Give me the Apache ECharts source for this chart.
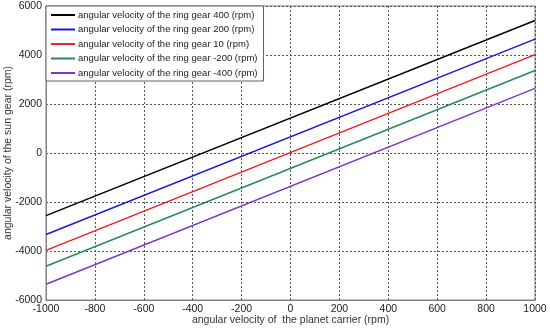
<!DOCTYPE html>
<html><head><meta charset="utf-8">
<script src="https://cdn.jsdelivr.net/npm/echarts@6/dist/echarts.min.js"></script>
<style>html,body{margin:0;padding:0;background:#fff}#c{width:550px;height:329px}</style>
</head><body><div id="c"></div>
<script>
const carrier = [-1000, 1000];
const ring400 = [-2556, 5408];
const ring200 = [-3326, 4649];
const ring10 = [-3976, 4016];
const ringM200 = [-4625, 3367];
const ringM400 = [-5355, 2637];
const names = [
  'angular velocity of the ring gear 400 (rpm)',
  'angular velocity of the ring gear 200 (rpm)',
  'angular velocity of the ring gear 10 (rpm)',
  'angular velocity of the ring gear -200 (rpm)',
  'angular velocity of the ring gear -400 (rpm)'
];
const colors = ['#000000', '#1a1ad6', '#f01c24', '#2a8a55', '#7f35c8'];
const seriesVals = [ring400, ring200, ring10, ringM200, ringM400];
const FONT = '"Liberation Sans", sans-serif';

const chart = echarts.init(document.getElementById('c'));
chart.setOption({
  animation: false,
  textStyle: { fontFamily: FONT },
  grid: { left: 46, right: 15, top: 6, bottom: 29, outerBoundsMode: 'none', containLabel: false, show: true, borderColor: '#808080', borderWidth: 1, backgroundColor: 'transparent' },
  legend: {
    orient: 'vertical', left: 46, top: 6,
    backgroundColor: '#fff', borderColor: '#606060', borderWidth: 1, borderRadius: 0,
    padding: [4, 6, 3, 5],
    itemWidth: 24, itemHeight: 10, itemGap: 4.5,
    icon: 'path://M0,4 L24,4 L24,6 L0,6 Z',
    textStyle: { fontSize: 9.5, color: '#222', fontFamily: FONT, padding: [0, 0, 0, -2] },
    data: names
  },
  xAxis: {
    type: 'value', min: -1000, max: 1000, interval: 200,
    name: 'angular velocity of  the planet carrier (rpm)', nameLocation: 'middle', nameGap: 15, nameMoveOverlap: false,
    nameTextStyle: { fontSize: 10.5, color: '#333', fontFamily: FONT },
    axisLine: { show: true, onZero: false, lineStyle: { color: '#808080' } },
    axisTick: { show: false },
    axisLabel: { fontSize: 10.5, color: '#222', margin: 4, fontFamily: FONT, formatter: v => String(v) },
    splitLine: { show: true, lineStyle: { color: '#555', type: [2, 2], width: 1 } }
  },
  yAxis: {
    type: 'value', min: -6000, max: 6000, interval: 2000,
    name: 'angular velocity of the sun gear (rpm)', nameLocation: 'middle', nameGap: 32, nameMoveOverlap: false,
    nameTextStyle: { fontSize: 10.5, color: '#333', fontFamily: FONT },
    axisLine: { show: true, onZero: false, lineStyle: { color: '#808080' } },
    axisTick: { show: false },
    axisLabel: { fontSize: 10.5, color: '#222', margin: 4, fontFamily: FONT, formatter: v => String(v) },
    splitLine: { show: true, lineStyle: { color: '#555', type: [2, 2], width: 1 } }
  },
  series: seriesVals.map((vals, i) => ({
    name: names[i], type: 'line', symbol: 'none',
    lineStyle: { color: colors[i], width: 1.5 }, itemStyle: { color: colors[i] },
    data: carrier.map((x, j) => [x, vals[j]])
  }))
});
</script></body></html>
